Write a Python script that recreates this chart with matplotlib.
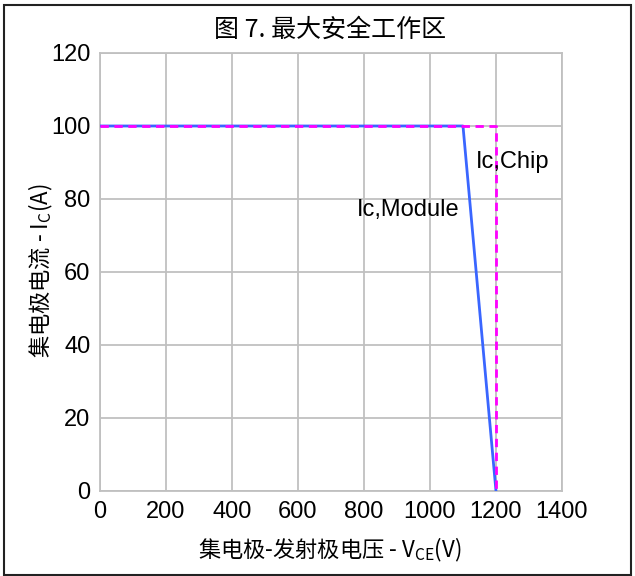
import matplotlib.pyplot as plt
from matplotlib.patches import Rectangle

# Datos de las curvas (V_CE en V, I_C en A)
vce_module = [0, 1100, 1200]
ic_module = [100, 100, 0]
vce_chip = [0, 1200, 1200]
ic_chip = [100, 100, 0]

x_ticks = [0, 200, 400, 600, 800, 1000, 1200, 1400]
y_ticks = [0, 20, 40, 60, 80, 100, 120]

cjk = ['Noto Sans CJK SC', 'DejaVu Sans']
plt.rcParams['font.family'] = ['Liberation Sans', 'DejaVu Sans']

fig = plt.figure(figsize=(6.35, 5.76), dpi=100)
ax = fig.add_axes([0.1575, 0.1476, 0.7275, 0.7604])

ax.plot(vce_module, ic_module, color='#3a66ff', lw=2, zorder=3)
ax.plot(vce_chip, ic_chip, color='#ff00ff', lw=2, ls=(0, (3, 2)), zorder=3)

ax.set_xlim(0, 1400)
ax.set_ylim(0, 120)
ax.set_xticks(x_ticks)
ax.set_yticks(y_ticks)
ax.grid(True, color='#c0c0c0', lw=1.3)
for s in ax.spines.values():
    s.set_color('#c0c0c0')
    s.set_linewidth(1.3)
ax.tick_params(length=0, labelsize=17, pad=7)

ax.text(1140, 90, 'Ic,Chip', fontsize=17, va='center', ha='left')
ax.text(1090, 77, 'Ic,Module', fontsize=17, va='center', ha='right')

fig.text(0.52, 0.949, '图 7. 最大安全工作区', fontsize=18, ha='center', va='center', family=cjk)
fig.text(0.52, 0.045, r'集电极-发射极电压 - V$\mathregular{_{CE}}$(V)', fontsize=16,
         ha='center', va='center', family=cjk)
fig.text(0.064, 0.53, r'集电极电流 - I$\mathregular{_C}$(A)', fontsize=16,
         ha='center', va='center', rotation=90, family=cjk)

fig.patches.append(Rectangle((0.006, 0.002), 0.988, 0.99, transform=fig.transFigure,
                             fill=False, edgecolor='#222222', lw=1.5))

fig.savefig('out.png', dpi=100)
